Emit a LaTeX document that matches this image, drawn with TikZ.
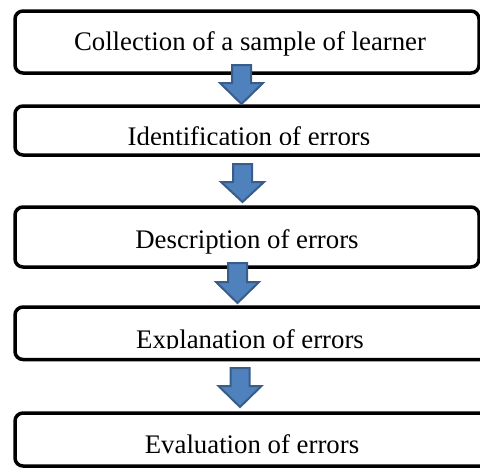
\documentclass[tikz,border=0pt]{standalone}
\usepackage{fontspec}
\setmainfont{Liberation Serif}
\definecolor{arrfill}{HTML}{4F81BD}
\definecolor{arrline}{HTML}{385D8A}
\begin{document}
\begin{tikzpicture}[x=1pt,y=-1pt,
  stagebox/.style={draw=black,line width=3.5pt,rounded corners=8pt,fill=white},
  label/.style={font=\fontsize{26.8}{30}\selectfont,anchor=base,inner sep=0pt},
  blockarrow/.style={fill=arrfill,draw=arrline,line width=2pt,line join=miter}]
\useasboundingbox (0,0) rectangle (480,467);
\clip (0,0) rectangle (480,467);
% boxes
\draw[stagebox] (15,11) rectangle (479,73);
\draw[stagebox] (15,106) rectangle (495,155);
\draw[stagebox] (15,207) rectangle (479,267);
\draw[stagebox] (15,307) rectangle (495,359.5);
\draw[stagebox] (15,413) rectangle (495,466);
% texts
\node[label] (t1) at (250,50) {Collection of a sample of learner};
\begin{scope}
\clip (0,100) rectangle (480,144.5);
\node[label] (t2) at (249,145.5) {Identification of errors};
\end{scope}
\node[label] (t3) at (247,248) {Description of errors};
\begin{scope}
\clip (0,300) rectangle (480,348);
\node[label] (t4) at (250,348) {Explanation of errors};
\end{scope}
\node[label] (t5) at (252,453) {Evaluation of errors};
% block arrows
\newcommand\blockarr[4]{%
  \draw[blockarrow] (#1-9.5,#2) -- (#1+9.5,#2) -- (#1+9.5,#3) -- (#1+21.5,#3)
    -- (#1,#4) -- (#1-21.5,#3) -- (#1-9.5,#3) -- cycle;}
\blockarr{241.5}{65}{83}{104}
\blockarr{242.5}{164}{182}{202}
\blockarr{237.5}{263}{282}{303}
\blockarr{240}{368}{386}{407}
\end{tikzpicture}
\end{document}
